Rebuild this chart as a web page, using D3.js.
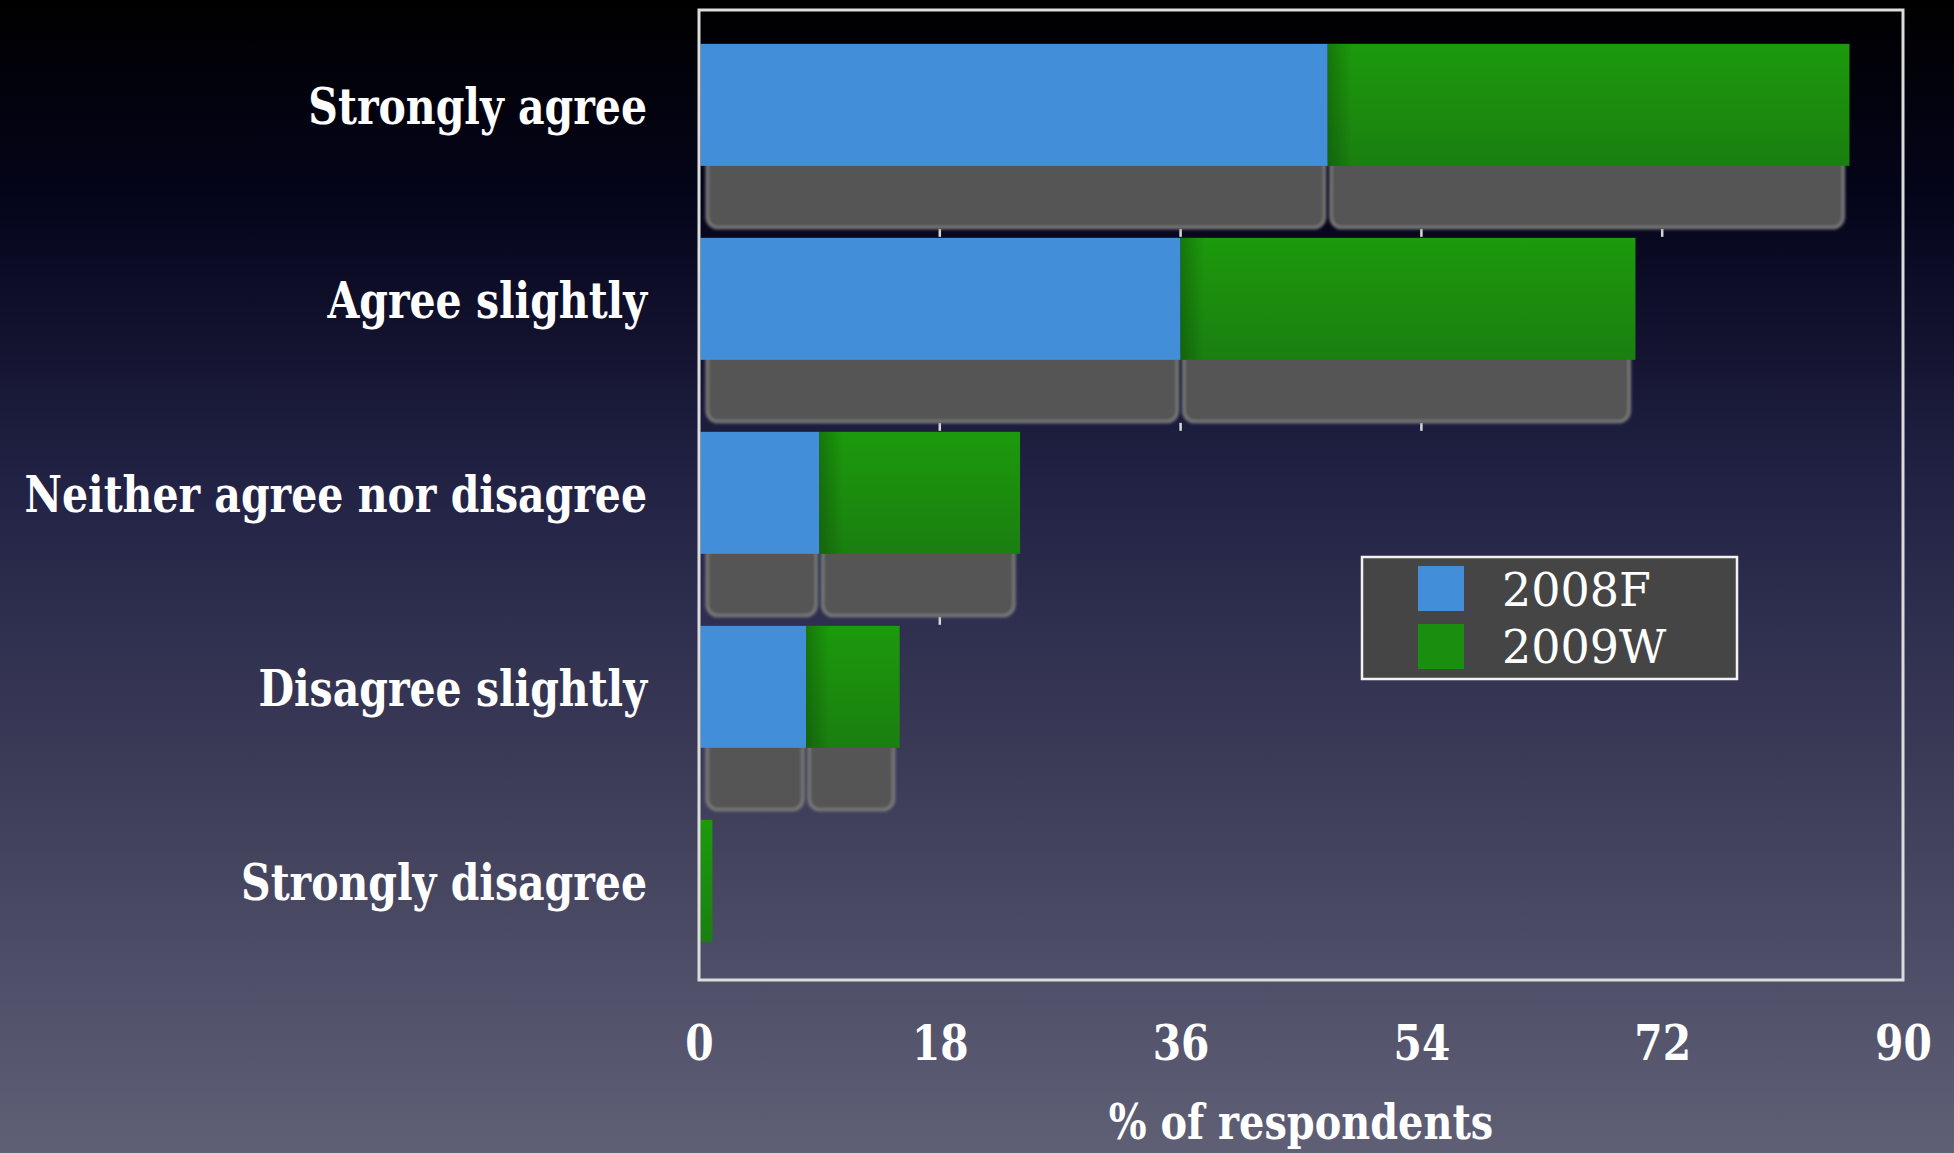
<!DOCTYPE html>
<html>
<head>
<meta charset="utf-8">
<script src="https://cdn.jsdelivr.net/npm/d3@7"></script>
<style>
  html, body { margin: 0; padding: 0; background: #000; }
  svg { display: block; }
  text { font-family: "DejaVu Serif", serif; fill: #fff; }
</style>
</head>
<body>
<svg id="chart" width="1954" height="1153"></svg>
<script>
// Survey responses, % of respondents per answer, two survey waves
const categories = ["Strongly agree", "Agree slightly", "Neither agree nor disagree", "Disagree slightly", "Strongly disagree"];
const seriesNames = ["2008F", "2009W"];
const values2008F = [47, 36, 9, 8, 0];
const values2009W = [39, 34, 15, 7, 1];
const xTickValues = [0, 18, 36, 54, 72, 90];
const axisTitle = "% of respondents";

const seriesColors = { "2008F": "#438ed8", "2009W": "url(#greenFill)" };
const legendColors = { "2008F": "#438ed8", "2009W": "#1a8e0e" };

const W = 1954, H = 1153;
const plot = { left: 699, right: 1903, top: 10, bottom: 980 };

const svg = d3.select("#chart");
const defs = svg.append("defs");

// page background: dark navy fading to slate
const bg = defs.append("linearGradient").attr("id", "bgGrad")
  .attr("x1", 0).attr("y1", 0).attr("x2", 0).attr("y2", 1);
[[0, "#000000"], [0.18, "#05051c"], [0.42, "#222245"], [0.7, "#3f3f5b"], [1, "#5f5f76"]]
  .forEach(([o, c]) => bg.append("stop").attr("offset", o).attr("stop-color", c));

const gf = defs.append("linearGradient").attr("id", "greenFill")
  .attr("x1", 0).attr("y1", 0).attr("x2", 0).attr("y2", 1);
gf.append("stop").attr("offset", 0).attr("stop-color", "#1c9a0c");
gf.append("stop").attr("offset", 1).attr("stop-color", "#1a7f10");

const edge = defs.append("linearGradient").attr("id", "edgeShade")
  .attr("x1", 0).attr("y1", 0).attr("x2", 1).attr("y2", 0);
edge.append("stop").attr("offset", 0).attr("stop-color", "#000").attr("stop-opacity", 0.22);
edge.append("stop").attr("offset", 1).attr("stop-color", "#000").attr("stop-opacity", 0);

defs.append("filter").attr("id", "soft").attr("x", "-5%").attr("y", "-20%").attr("width", "110%").attr("height", "140%")
  .append("feGaussianBlur").attr("stdDeviation", 1.8);

svg.append("rect").attr("width", W).attr("height", H).attr("fill", "url(#bgGrad)");

// scales
const x = d3.scaleLinear().domain([0, 90]).range([plot.left, plot.right]);
const y = d3.scaleBand().domain(categories).range([plot.top, plot.bottom])
  .paddingInner(0.371).paddingOuter(0.1855).align(0.47);

const rows = categories.map((c, i) => ({ category: c, "2008F": values2008F[i], "2009W": values2009W[i] }));
const stacked = d3.stack().keys(seriesNames)(rows);

const shadowDrop = 62;

// squeeze text horizontally to a narrower typewriter proportion
function squeeze(sel, f) {
  sel.each(function () {
    const len = this.getComputedTextLength();
    this.setAttribute("textLength", len * f);
    this.setAttribute("lengthAdjust", "spacingAndGlyphs");
  });
}

// small tick marks showing in the gaps under each bar
const gapTicks = svg.append("g");
rows.forEach((r, i) => {
  if (i === rows.length - 1) return;
  const total = r["2008F"] + r["2009W"];
  const y0 = y(r.category) + y.bandwidth() + shadowDrop + 1;
  const y1 = y(categories[i + 1]) - 1;
  xTickValues.filter(t => t > 0 && t < 90 && t < total).forEach(t => {
    gapTicks.append("line").attr("x1", x(t)).attr("x2", x(t))
      .attr("y1", y0).attr("y2", y1)
      .attr("stroke", "#d8d8d8").attr("stroke-width", 2.5);
  });
});

// floor shadows beneath each bar segment
const shadowG = svg.append("g").attr("filter", "url(#soft)");
stacked.forEach((s, si) => {
  s.forEach((d, i) => {
    const x0 = x(d[0]) + (d[0] === 0 ? 8 : 3);
    const x1 = x(d[1]) - (si === stacked.length - 1 ? 6 : 3);
    if (x1 - x0 < 8) return;
    const top = y(categories[i]) + y.bandwidth() - 14;
    shadowG.append("rect")
      .attr("x", x0).attr("y", top)
      .attr("width", x1 - x0).attr("height", shadowDrop + 14)
      .attr("rx", 11)
      .attr("fill", "#555555").attr("stroke", "#7e7e7e").attr("stroke-width", 3);
  });
});

// bars
stacked.forEach((s) => {
  const g = svg.append("g");
  g.selectAll("rect").data(s).join("rect")
    .attr("x", d => x(d[0]) + (d[0] === 0 ? 1.5 : 0))
    .attr("y", (d, i) => y(categories[i]))
    .attr("width", d => Math.max(0, x(d[1]) - x(d[0]) - (d[0] === 0 ? 1.5 : 0)))
    .attr("height", y.bandwidth())
    .attr("fill", seriesColors[s.key]);
  if (s.key === "2009W") {
    g.selectAll("rect.edge").data(s.filter(d => d[0] > 0 && d[1] - d[0] > 0)).join("rect")
      .attr("class", "edge")
      .attr("x", d => x(d[0]))
      .attr("y", d => y(d.data.category))
      .attr("width", d => Math.min(24, x(d[1]) - x(d[0])))
      .attr("height", y.bandwidth())
      .attr("fill", "url(#edgeShade)");
  }
});

// plot frame
svg.append("rect")
  .attr("x", plot.left).attr("y", plot.top)
  .attr("width", plot.right - plot.left).attr("height", plot.bottom - plot.top)
  .attr("fill", "none").attr("stroke", "#dcdcdc").attr("stroke-width", 3);

// category labels
const yAxis = svg.append("g").attr("transform", `translate(${plot.left},0)`)
  .call(d3.axisLeft(y).tickSize(0).tickPadding(52));
yAxis.select(".domain").remove();
yAxis.selectAll("text")
  .attr("font-family", "DejaVu Serif").attr("font-weight", "bold").attr("font-size", 50)
  .attr("fill", "#fff").attr("dy", "0.38em");
squeeze(yAxis.selectAll("text"), 0.82);

// value axis
const xAxis = svg.append("g").attr("transform", `translate(0,${plot.bottom})`)
  .call(d3.axisBottom(x).tickValues(xTickValues).tickSize(0).tickPadding(80).tickFormat(d3.format("d")));
xAxis.select(".domain").remove();
xAxis.selectAll("text")
  .attr("font-family", "DejaVu Serif").attr("font-weight", "bold").attr("font-size", 48)
  .attr("fill", "#fff").attr("dy", 0);
squeeze(xAxis.selectAll("text"), 0.85);

const title = svg.append("text")
  .attr("x", (plot.left + plot.right) / 2).attr("y", 1139)
  .attr("text-anchor", "middle")
  .attr("font-weight", "bold").attr("font-size", 48)
  .text(axisTitle);
squeeze(title, 0.83);

// legend
const legend = svg.append("g").attr("transform", "translate(1362,557)");
legend.append("rect").attr("width", 375).attr("height", 122)
  .attr("fill", "#454545").attr("stroke", "#f2f2f2").attr("stroke-width", 2.5);
seriesNames.forEach((name, i) => {
  legend.append("rect").attr("x", 56).attr("y", 9 + i * 58)
    .attr("width", 46).attr("height", 45).attr("fill", legendColors[name]);
  legend.append("text").attr("x", 140).attr("y", 49 + i * 57)
    .attr("font-size", 46).attr("fill", "#fff").text(name);
});
</script>
</body>
</html>
